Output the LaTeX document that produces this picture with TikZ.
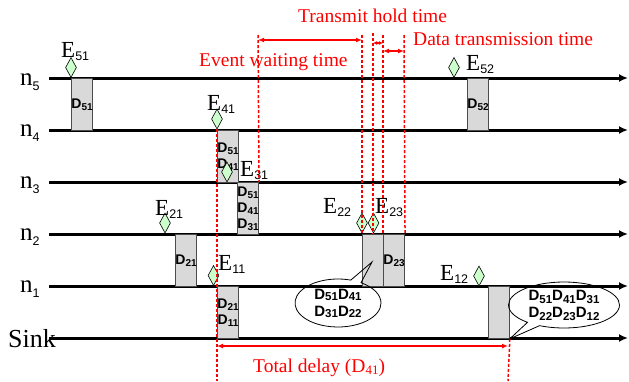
\documentclass[tikz,border=0pt]{standalone}
\usepackage{fontspec}
\setmainfont{Liberation Serif}
\setsansfont{Liberation Sans}
\usetikzlibrary{shapes.geometric,shapes.callouts,arrows.meta}

\definecolor{pktgray}{HTML}{D9D9D9}
\definecolor{evgreen}{HTML}{CCFFCC}

\newcommand{\nd}[1]{n\raisebox{-5pt}{\fontsize{12.5}{12.5}\selectfont\sffamily #1}}
\newcommand{\ev}[1]{E\raisebox{-3pt}{\fontsize{12.5}{12.5}\selectfont\sffamily #1}}
\newcommand{\dd}[1]{D\raisebox{-2pt}{\fontsize{10}{10}\selectfont #1}}
\newcommand{\ddc}[2][1pt]{D\raisebox{-#1}{\fontsize{11.5}{11.5}\selectfont #2}}

\begin{document}
\begin{tikzpicture}[
        x=1pt, y=-1pt,
        lane/.style={line width=3pt, -{Latex[length=9pt,width=8pt]}},
        lbl/.style={font=\fontsize{25}{25}\selectfont, inner sep=0, anchor=base west},
        evlbl/.style={font=\fontsize{23}{23}\selectfont, inner sep=0, anchor=base west},
        pkt/.style={
            draw=black!70,
            line width=0.8pt,
            fill=pktgray,
            minimum width=21pt,
            minimum height=52pt,
            inner sep=0,
            anchor=north west,
            align=center,
            font=\fontsize{14}{16}\selectfont\sffamily\bfseries
        },
        ev/.style={diamond, draw, line width=0.6pt, fill=evgreen, minimum width=11pt, minimum height=20pt, inner sep=0},
        guide/.style={red, line width=1.5pt, dash pattern=on 3pt off 2pt},
        meas/.style={red, line width=1.5pt, {Latex[length=6pt,width=5pt]}-{Latex[length=6pt,width=5pt]}},
        meassmall/.style={red, line width=1.2pt, {Latex[length=4pt,width=4pt]}-{Latex[length=4pt,width=4pt]}},
        redlbl/.style={red, font=\fontsize{19.5}{19.5}\selectfont, inner sep=0, anchor=base west},
        bubble/.style={ellipse callout, draw, line width=0.8pt, inner sep=0, align=center, font=\fontsize{15}{17}\selectfont\sffamily\bfseries}
    ]

    \useasboundingbox (0,0) rectangle (629,381);

    \node[lbl] (n5) at (20,85) {\nd{5}};
    \node[lbl] (n4) at (20,136) {\nd{4}};
    \node[lbl] (n3) at (20,188) {\nd{3}};
    \node[lbl] (n2) at (20,240) {\nd{2}};
    \node[lbl] (n1) at (20,292) {\nd{1}};
    \node[lbl, font=\fontsize{26}{26}\selectfont] (sink) at (8,347) {Sink};

    \coordinate (s5) at (49,78);  \coordinate (e5) at (628,78);
    \coordinate (s4) at (49,130); \coordinate (e4) at (628,130);
    \coordinate (s3) at (49,182); \coordinate (e3) at (628,182);
    \coordinate (s2) at (49,234); \coordinate (e2) at (628,234);
    \coordinate (s1) at (49,286); \coordinate (e1) at (628,286);
    \coordinate (s0) at (49,338); \coordinate (e0) at (628,338);

    \draw[lane] (s5) -- (e5);
    \draw[lane] (s4) -- (e4);
    \draw[lane] (s3) -- (e3);
    \draw[lane] (s2) -- (e2);
    \draw[lane] (s1) -- (e1);
    \draw[lane] (s0) -- (e0);

    \node[pkt] (d51) at (71,78) {\dd{51}};
    \node[pkt] (d41) at (217,130) {\dd{51}\\\dd{41}};
    \node[pkt] (d31) at (237,182) {\dd{51}\\\dd{41}\\\dd{31}};
    \node[pkt] (d21) at (175,234) {\dd{21}};
    \node[pkt] (d11) at (217,286) {\dd{21}\\\dd{11}};
    \node[pkt] (d22) at (362,234) {};
    \node[pkt] (d23) at (383,234) {\dd{23}};
    \node[pkt] (d12) at (488,286) {};
    \node[pkt] (d52) at (467,78) {\dd{52}};

    \node[ev] (de51) at (71,67.5) {};
    \node[ev] (de41) at (217,119) {};
    \node[ev] (de31) at (227,172) {};
    \node[ev] (de21) at (165,223) {};
    \node[ev] (de11) at (213.5,275.5) {};
    \node[ev] (de22) at (362,223) {};
    \node[ev] (de23) at (373.5,223) {};
    \node[ev] (de12) at (479,276) {};
    \node[ev] (de52) at (454,67.5) {};

    \node[evlbl] (l51) at (61,57) {\ev{51}};
    \node[evlbl] (l41) at (207,110) {\ev{41}};
    \node[evlbl] (l31) at (240,176) {\ev{31}};
    \node[evlbl] (l21) at (155,215) {\ev{21}};
    \node[evlbl] (l11) at (218,270) {\ev{11}};
    \node[evlbl] (l22) at (323,213) {\ev{22}};
    \node[evlbl] (l23) at (375,213) {\ev{23}};
    \node[evlbl] (l12) at (440,280) {\ev{12}};
    \node[evlbl] (l52) at (466,70) {\ev{52}};

    \coordinate (b1) at (217,381);
    \coordinate (b2) at (508,381);
    \coordinate (t1) at (258,35);
    \coordinate (t2) at (362,35);
    \coordinate (t3) at (373,33);
    \coordinate (t4) at (383,35);
    \coordinate (t5) at (404,35);
    \coordinate (u3) at (373,234);

    \draw[guide] (de41.south) -- (b1);
    \draw[guide] (t1) -- (d31.north east);
    \draw[guide] (t2) -- (d22.north west);
    \draw[guide] (t3) -- (u3);
    \draw[guide] (t4) -- (d23.north west);
    \draw[guide] (t5) -- (d23.north east);
    \draw[guide] (d12.south east) -- (b2);

    \coordinate (w1) at (258,40);  \coordinate (w2) at (362,40);
    \coordinate (h1) at (373,43);  \coordinate (h2) at (383,43);
    \coordinate (x1) at (383,51);  \coordinate (x2) at (404,51);
    \coordinate (y1) at (217,346); \coordinate (y2) at (508,346);

    \draw[meas] (w1) -- (w2);
    \draw[meassmall] (h1) -- (h2);
    \draw[meas] (x1) -- (x2);
    \draw[meas] (y1) -- (y2);

    \node[redlbl] (wait) at (199,66) {Event waiting time};
    \node[redlbl] (hold) at (298,22) {Transmit hold time};
    \node[redlbl] (data) at (413,45) {Data transmission time};
    \node[redlbl] (total) at (253,372) {Total delay (D\raisebox{-2pt}{\fontsize{13}{13}\selectfont 41})};

    \coordinate (p1) at (372,262);
    \node[bubble, minimum width=86pt, minimum height=48pt, callout absolute pointer={(p1)}] (c1) at (338,303) {\ddc{51}\ddc{41}\\\ddc{31}\ddc{22}};
    \node[bubble, minimum width=111pt, minimum height=46pt, callout absolute pointer={(d12.south east)}] (c2) at (564,305) {\ddc[3pt]{51}\ddc[3pt]{41}\ddc[3pt]{31}\\\ddc[3pt]{22}\ddc[3pt]{23}\ddc[3pt]{12}};

    \end{tikzpicture}
\end{document}
